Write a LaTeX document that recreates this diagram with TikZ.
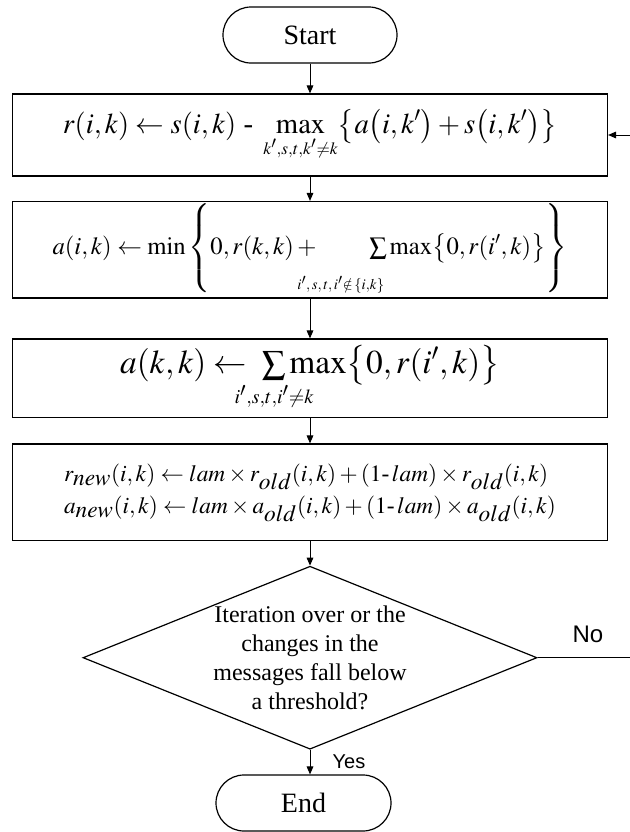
\documentclass[tikz,border=0pt]{standalone}
\usepackage{amsmath}
\usepackage{mathptmx}
\usepackage[no-math]{fontspec}
\setmainfont{Liberation Serif}
\newfontfamily\arialfont{Liberation Sans}
\usetikzlibrary{shapes.geometric,arrows.meta}

\begin{document}
\begin{tikzpicture}[x=.75pt,y=-.75pt,line width=.9pt,
  term/.style={draw,rounded corners=21pt,minimum width=130.5pt,minimum height=42pt,font=\fontsize{21}{25}\selectfont},
  procbox/.style={draw,minimum width=446.25pt,inner sep=0pt},
  decision/.style={draw,diamond,aspect=2.48,minimum width=340.5pt,minimum height=137.25pt,inner sep=0pt},
  decfont/.style={font=\fontsize{18}{21.75}\selectfont,align=center},
  flow/.style={-{Triangle[length=6pt,width=5pt]},line width=.75pt},
  tag/.style={font=\arialfont\fontsize{#1}{#1}\selectfont}]
\path[use as bounding box] (0,0) rectangle (629,832);

% terminals
\node[term] (start) at (310,35) {Start};
\node[term,minimum width=131.25pt] (end) at (303.5,803) {End};

% update steps
\node[procbox,minimum height=61.5pt,font=\fontsize{21.5}{26}\selectfont] (resp) at (310,135)
  {$\displaystyle r(i,k)\leftarrow s(i,k)\mbox{ - }\max_{\rule{0pt}{8pt}\scriptscriptstyle k',s,t,k'\neq k}\bigl\{a\bigl(i,k'\bigr)+s\bigl(i,k'\bigr)\bigr\}$};
\node[procbox,minimum height=72.4pt,font=\fontsize{18.5}{22}\selectfont] (avail) at (310,249.75)
  {$\displaystyle a(i,k)\leftarrow\min\left\{\rule[-23pt]{0pt}{50pt}0,r(k,k)+\qquad\mathop{\textstyle\sum}\limits_{\makebox[0pt]{\hspace*{-56pt}$\scriptscriptstyle\rule{0pt}{20pt}i',\,s,\,t,\,i'\notin\,\{i,k\}$}}\max\bigl\{0,r(i',k)\bigr\}\right\}$};
\node[procbox,minimum height=58.9pt,font=\fontsize{25}{29}\selectfont] (self) at (310,378.25)
  {$\displaystyle a(k,k)\leftarrow\;\mathop{\textstyle\sum}\limits_{\rlap{\kern-10pt$\scriptscriptstyle i',s,t,i'\neq k$}}\max\bigl\{0,r(i',k)\bigr\}$};
\node[procbox,minimum height=72.4pt,font=\fontsize{17.5}{21}\selectfont] (damp) at (310,492.25)
  {\begin{tabular}{@{}l@{}}
   $r_{\textstyle new}(i,k)\leftarrow lam\times r_{\textstyle old}(i,k)+(1\mbox{-}\,lam)\times r_{\textstyle old}(i,k)$\\[3pt]
   $a_{\textstyle new}(i,k)\leftarrow lam\times a_{\textstyle old}(i,k)+(1\mbox{-}\,lam)\times a_{\textstyle old}(i,k)$
   \end{tabular}};

% stop test
\node[decision,label={[decfont]center:{Iteration over or the\\changes in the\\messages fall below\\a threshold?}}] (dec) at (310,657.7) {};
\coordinate (back) at (660,657.7);

\draw[flow] (start) -- (resp);
\draw[flow] (resp) -- (avail);
\draw[flow] (avail) -- (self);
\draw[flow] (self) -- (damp);
\draw[flow] (damp) -- (dec);
\draw[flow] (dec.south) -- (dec.south |- end.north);
\draw[flow] (dec.east) -- (back) |- (resp.east);

\node[tag=18] (no) at (588,634) {No};
\node[tag=15] (yes) at (349,762) {Yes};
\end{tikzpicture}
\end{document}
